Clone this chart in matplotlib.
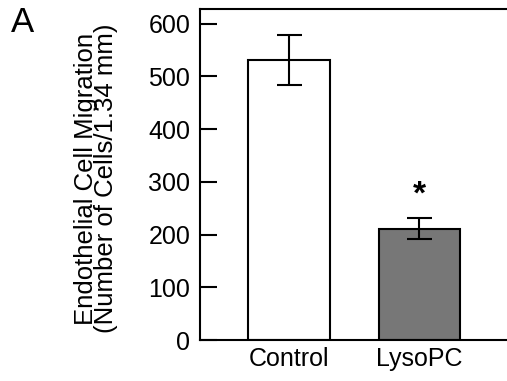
import matplotlib
matplotlib.use('Agg')
import matplotlib.pyplot as plt

# data
groups = ["Control", "LysoPC"]
means = [531, 211]
errors = [48, 20]
bar_colors = ["white", "#777777"]
y_ticks = [0, 100, 200, 300, 400, 500, 600]

plt.rcParams['font.family'] = ['Liberation Sans', 'DejaVu Sans']

fig = plt.figure(figsize=(5.07, 3.81), dpi=100)
ax = fig.add_axes([200 / 507, 1 - 340 / 381, 307 / 507, 331 / 381])

x = range(len(groups))
ax.bar(x, means, width=0.625, color=bar_colors, edgecolor='black', linewidth=1.5,
       yerr=errors, capsize=9, error_kw=dict(elinewidth=1.5, capthick=1.5, ecolor='black'))

# significance marker
ax.text(1, 275, '*', ha='center', va='center', fontsize=24, fontweight='bold')

ax.set_xlim(-0.685, 1.675)
ax.set_ylim(0, 628)
ax.set_yticks(y_ticks)
ax.set_xticks(list(x))
ax.set_xticklabels(groups, fontsize=18)
ax.tick_params(axis='y', direction='in', length=12, width=1.5, labelsize=18, pad=7)
ax.tick_params(axis='x', length=0, pad=5)
for side in ['left', 'top', 'bottom']:
    ax.spines[side].set_linewidth(1.5)
ax.spines['right'].set_visible(False)

ax.set_ylabel('Endothelial Cell Migration\n(Number of Cells/1.34 mm)', fontsize=18.5,
              linespacing=0.8)
ax.yaxis.set_label_coords(-82 / 307, 0.488)

fig.text(11 / 507, 1 - 22 / 381, 'A', fontsize=25, va='center', ha='left')

plt.savefig('out.png', dpi=100)
